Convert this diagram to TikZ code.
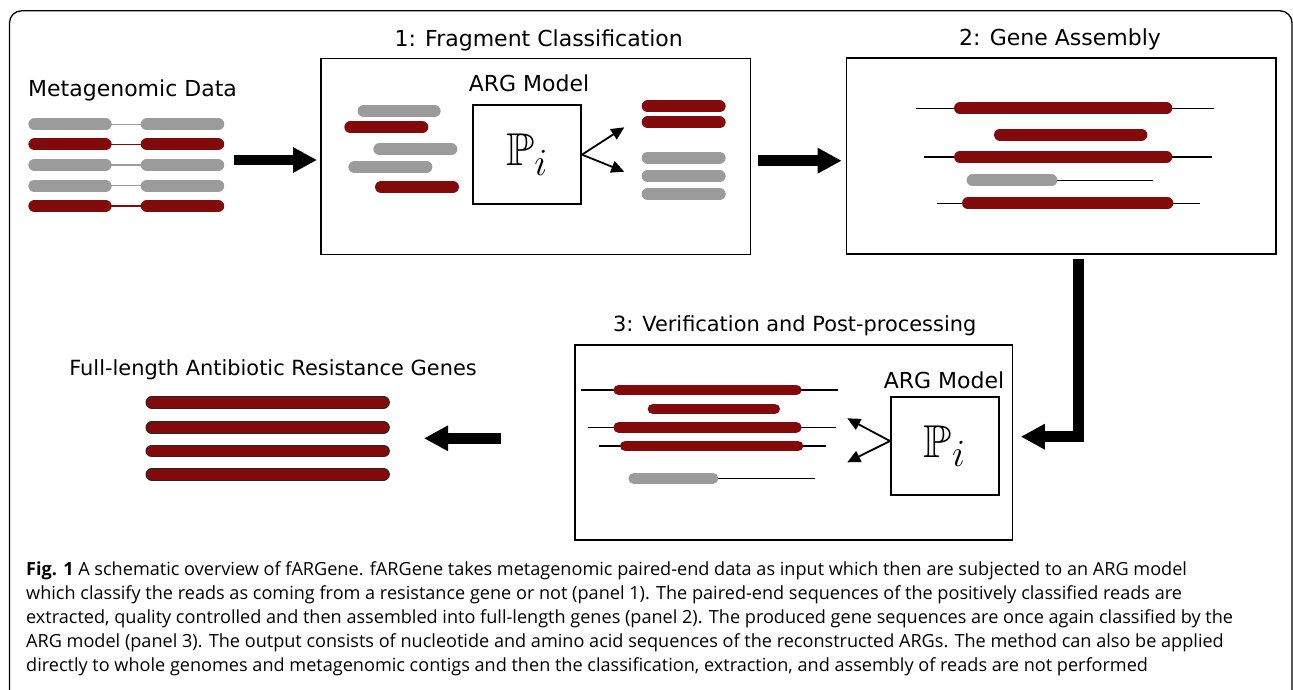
\documentclass[tikz,border=0pt]{standalone}
\usepackage{fontspec}
\usepackage{amssymb}
\usepackage{graphicx}
\setmainfont{DejaVu Sans}
\newfontfamily\capfont{Open Sans}
\usetikzlibrary{arrows.meta}
\definecolor{readred}{RGB}{130,10,10}
\definecolor{readgray}{RGB}{155,155,155}
\tikzset{
  redread/.style={line width=12.3pt, line cap=round, readred},
  grayread/.style={line width=12.3pt, line cap=round, readgray},
  redgene/.style={line width=11.7pt, line cap=round, readred},
  graygene/.style={line width=11.7pt, line cap=round, readgray},
  redgenes/.style={line width=10.7pt, line cap=round, readred},
  graygenes/.style={line width=10.7pt, line cap=round, readgray},
  thinline/.style={line width=1.5pt, black},
  panel/.style={draw, line width=1.5pt, anchor=north west, inner sep=0pt},
  pbox/.style={draw, line width=2pt, anchor=north west, inner sep=0pt},
  label/.style={anchor=base, inner sep=0pt, font=\fontsize{22}{26}\selectfont},
  labelnarrow/.style={anchor=base, inner sep=0pt, font=\fontsize{20.9}{26}\selectfont},
  bigarrow/.style={line width=10.5pt, line join=miter, -{Triangle[length=24pt,width=24pt]}},
  smallarrow/.style={line width=1.8pt, -{Triangle[length=13pt,width=12pt]}},
  capline/.style={anchor=base west, inner sep=0pt, font=\capfont\fontsize{18.1}{21}\selectfont},
}
\newcommand{\Pmodel}{{\fontsize{24.88}{30}\selectfont\scalebox{1.85}{$\mathbb{P}_i$}}}
\begin{document}
\begin{tikzpicture}[x=1pt,y=-1pt]
\useasboundingbox (0,0) rectangle (1293,689);
% outer frame
\draw[line width=1.3pt, rounded corners=12pt] (9.5,700) -- (9.5,10.8) -- (1292,10.8) -- (1292,700);

% ---- Metagenomic data ----
\node[label, anchor=base west] (mdata) at (28,96) {Metagenomic Data};
\foreach \y/\c in {124.3/readgray,144.3/readred,165/readgray,185.7/readgray,206/readred}{
  \draw[line width=12.3pt, line cap=round, \c] (34.5,\y) -- (105.5,\y);
  \draw[line width=12.3pt, line cap=round, \c] (146.9,\y) -- (218.1,\y);
  \draw[line width=1.4pt, \c] (105.5,\y) -- (146.9,\y);
}

% ---- Panel 1 ----
\node[label] (t1) at (538.7,46) {1: Fragment Classification};
\node[panel, minimum width=429.5pt, minimum height=196pt] (p1) at (320,57.5) {};
\node[label] (arg1) at (529,91.7) {ARG Model};
\node[pbox, minimum width=107.7pt, minimum height=99.3pt] (pm1) at (472.3,104) {};
\node (pi1) at (pm1.center) {\Pmodel};
\draw[grayread] (363.8,111) -- (434.5,111);
\draw[redread]  (350.5,127.3) -- (422.2,127.3);
\draw[grayread] (379.5,149.3) -- (451.2,149.3);
\draw[grayread] (354.5,167) -- (426.2,167);
\draw[redread]  (381.2,187) -- (452.8,187);
\draw[redread]  (647.8,106.3) -- (719.5,106.3);
\draw[redread]  (647.8,122.3) -- (719.5,122.3);
\draw[grayread] (647.8,157.7) -- (719.5,157.7);
\draw[grayread] (647.8,176.3) -- (719.5,176.3);
\draw[grayread] (647.8,194) -- (719.5,194);
\coordinate (o1a) at (624.3,127.3);
\coordinate (o1b) at (624.3,171.7);
\draw[smallarrow] (pm1.east) -- (o1a);
\draw[smallarrow] (pm1.east) -- (o1b);

% ---- Panel 2 ----
\node[label] (t2) at (1060,45) {2: Gene Assembly};
\node[panel, minimum width=429.3pt, minimum height=196pt] (p2) at (845.7,57.3) {};
\draw[thinline] (915.7,108.3) -- (1214.3,108.3);
\draw[redgene] (959.9,108.3) -- (1166.5,108.3);
\draw[redgene] (999.9,134.7) -- (1141.5,134.7);
\draw[thinline] (924.3,157) -- (1211.7,157);
\draw[redgene] (959.9,157) -- (1166.5,157);
\draw[thinline] (1051.5,180.3) -- (1153.3,180.3);
\draw[graygene] (972.5,180.3) -- (1051.5,180.3);
\draw[thinline] (937,203.3) -- (1200.3,203.3);
\draw[redgene] (967.9,203.3) -- (1167.5,203.3);

% ---- Panel 3 ----
\node[labelnarrow] (t3) at (794.7,331.7) {3: Verification and Post-processing};
\node[panel, minimum width=437.5pt, minimum height=195pt] (p3) at (574,344.3) {};
\node[label] (arg3) at (944,388.3) {ARG Model};
\node[pbox, minimum width=107.7pt, minimum height=98.6pt] (pm3) at (890,395.7) {};
\node (pi3) at (pm3.center) {\Pmodel};
\draw[thinline] (580.7,390) -- (837.7,390);
\draw[redgenes] (618.7,390) -- (796.3,390);
\draw[redgenes] (653,409) -- (774.7,409);
\draw[thinline] (588.3,427.3) -- (835.7,427.3);
\draw[redgenes] (618.7,427.3) -- (796.3,427.3);
\draw[thinline] (599.3,446) -- (825.7,446);
\draw[redgenes] (625.3,446) -- (798,446);
\draw[thinline] (713,478.3) -- (815,478.3);
\draw[graygenes] (633.7,478.3) -- (713,478.3);
\coordinate (o3a) at (847.3,418.3);
\coordinate (o3b) at (847.3,462.3);
\draw[smallarrow] ([yshift=5pt]pm3.west) -- (o3a);
\draw[smallarrow] ([yshift=5pt]pm3.west) -- (o3b);

% ---- Full-length genes ----
\node[labelnarrow] (tf) at (273,375) {Full-length Antibiotic Resistance Genes};
\foreach \y in {402.3,427.7,451,474.3}{
  \draw[line width=12.7pt, line cap=round, black!85] (151.85,\y) -- (383.5,\y);
  \draw[line width=10.9pt, line cap=round, readred] (151.85,\y) -- (383.5,\y);
}

% ---- big arrows ----
\coordinate (a1s) at (234,160);
\draw[bigarrow] (a1s) -- ([xshift=-3pt]a1s -| p1.west);
\coordinate (a2s) at (758.3,160.7);
\draw[bigarrow] (a2s) -- ([xshift=-4pt]a2s -| p2.west);
\coordinate (a3s) at (1078.3,259.3);
\coordinate (a3c) at (1078.3,436.7);
\draw[bigarrow] (a3s) -- (a3c) -- ([xshift=7.8pt]a3c -| p3.east);
\coordinate (a4s) at (500.7,438.3);
\coordinate (a4e) at (424,438.3);
\draw[bigarrow] (a4s) -- (a4e);

% ---- caption ----
\node[capline] (c1) at (26,575) {{\bfseries Fig. 1} A schematic overview of fARGene. fARGene takes metagenomic paired-end data as input which then are subjected to an ARG model};
\node[capline] (c2) at (26,599.3) {which classify the reads as coming from a resistance gene or not (panel 1). The paired-end sequences of the positively classified reads are};
\node[capline] (c3) at (26,623.3) {extracted, quality controlled and then assembled into full-length genes (panel 2). The produced gene sequences are once again classified by the};
\node[capline] (c4) at (26,647.3) {ARG model (panel 3). The output consists of nucleotide and amino acid sequences of the reconstructed ARGs. The method can also be applied};
\node[capline] (c5) at (26,671.7) {directly to whole genomes and metagenomic contigs and then the classification, extraction, and assembly of reads are not performed};
\end{tikzpicture}
\end{document}
